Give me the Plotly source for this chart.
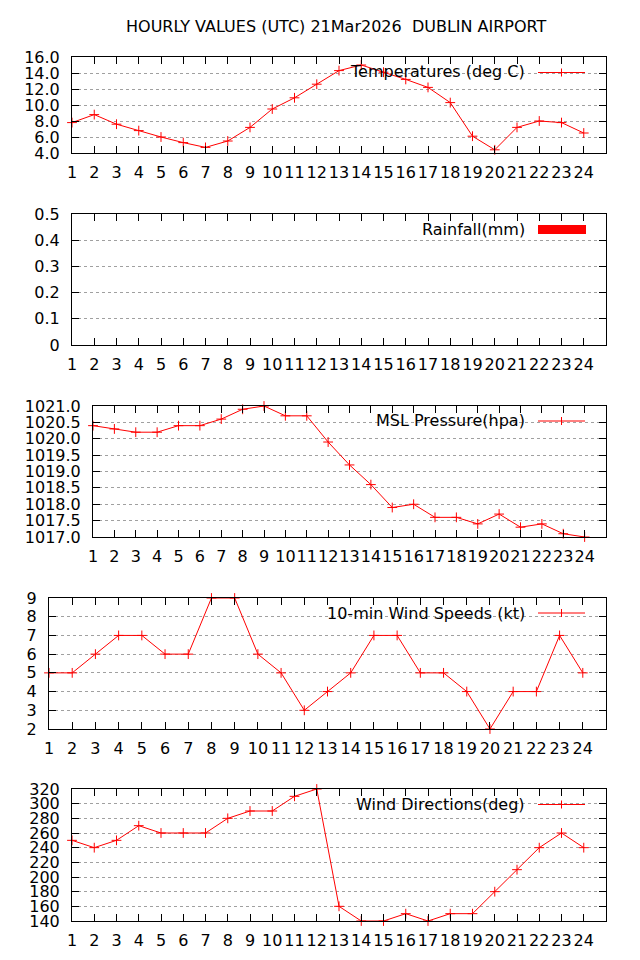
import plotly.graph_objects as go

# ---------------- data ----------------
hours = [1, 2, 3, 4, 5, 6, 7, 8, 9, 10, 11, 12, 13, 14, 15, 16, 17, 18, 19, 20, 21, 22, 23, 24]
hour_labels = [str(h) for h in hours]

title_text = "HOURLY VALUES (UTC) 21Mar2026  DUBLIN AIRPORT"

temperature = [7.8, 8.8, 7.6, 6.8, 6.0, 5.3, 4.7, 5.5, 7.2, 9.5, 10.9, 12.6,
               14.3, 15.0, 14.1, 13.2, 12.2, 10.3, 6.1, 4.4, 7.2, 8.0, 7.8, 6.5]
rainfall = [0.0, 0.0, 0.0, 0.0, 0.0, 0.0, 0.0, 0.0, 0.0, 0.0, 0.0, 0.0,
            0.0, 0.0, 0.0, 0.0, 0.0, 0.0, 0.0, 0.0, 0.0, 0.0, 0.0, 0.0]
pressure = [1020.4, 1020.3, 1020.2, 1020.2, 1020.4, 1020.4, 1020.6, 1020.9, 1021.0, 1020.7, 1020.7, 1019.9,
            1019.2, 1018.6, 1017.9, 1018.0, 1017.6, 1017.6, 1017.4, 1017.7, 1017.3, 1017.4, 1017.1, 1017.0]
wind_speed = [5, 5, 6, 7, 7, 6, 6, 9, 9, 6, 5, 3, 4, 5, 7, 7, 5, 5, 4, 2, 4, 4, 7, 5]
wind_dir = [250, 240, 250, 270, 260, 260, 260, 280, 290, 290, 310, 320,
            160, 140, 140, 150, 140, 150, 150, 180, 210, 240, 260, 240]

temp_ticks = [4, 6, 8, 10, 12, 14, 16]
rain_ticks = [0, 0.1, 0.2, 0.3, 0.4, 0.5]
rain_tick_labels = ["0", "0.1", "0.2", "0.3", "0.4", "0.5"]
pres_ticks = [1017.0, 1017.5, 1018.0, 1018.5, 1019.0, 1019.5, 1020.0, 1020.5, 1021.0]
speed_ticks = [2, 3, 4, 5, 6, 7, 8, 9]
dir_ticks = [140, 160, 180, 200, 220, 240, 260, 280, 300, 320]

titles = ["Temperatures (deg C)", "Rainfall(mm)", "MSL Pressure(hpa)",
          "10-min Wind Speeds (kt)", "Wind Directions(deg)"]

# ---------------- layout geometry (pixels) ----------------
W, H = 640, 960
# (top, bottom, left, right)
boxes = [(57, 153, 72, 606), (214, 345, 72, 606), (406, 537, 93, 606),
         (598, 729, 49, 606), (789, 921, 72, 606)]
key_line_offsets = [0.5, 0.0, 0.0, 0.0, 0.5]

FONT = dict(family="DejaVu Sans", size=16, color="black")
RED = "#ff0000"

fig = go.Figure()

series = [
    (temperature, "line", [4, 16], temp_ticks, [f"{v:.1f}" for v in temp_ticks]),
    (rainfall, "bar", [0, 0.5], rain_ticks, rain_tick_labels),
    (pressure, "line", [1017, 1021], pres_ticks, [f"{v:.1f}" for v in pres_ticks]),
    (wind_speed, "line", [2, 9], speed_ticks, [str(v) for v in speed_ticks]),
    (wind_dir, "line", [140, 320], dir_ticks, [str(v) for v in dir_ticks]),
]

shapes = []
annotations = []

for i, (vals, kind, yr, tv, tt) in enumerate(series):
    n = "" if i == 0 else str(i + 1)
    top, bot, left, right = boxes[i]
    xa = dict(
        domain=[left / W, right / W], range=[1, 25], tickvals=hours, ticktext=hour_labels,
        ticks="inside", ticklen=7, tickcolor="black", tickwidth=1, tickangle=0,
        showline=True, linecolor="black", linewidth=1, mirror="all",
        showgrid=False, zeroline=False, tickfont=FONT, ticklabelstandoff=5,
        anchor="y" + n, fixedrange=True, automargin=False,
    )
    ya = dict(
        domain=[1 - bot / H, 1 - top / H], range=yr, tickvals=tv, ticktext=tt,
        ticks="inside", ticklen=7, tickcolor="black", tickwidth=1,
        showline=True, linecolor="black", linewidth=1, mirror="all",
        showgrid=True, gridcolor="#a0a0a0", griddash="dot", gridwidth=1,
        zeroline=False, tickfont=FONT, ticklabelstandoff=8,
        anchor="x" + n, fixedrange=True, automargin=False,
    )
    fig.layout["xaxis" + n] = xa
    fig.layout["yaxis" + n] = ya

    if kind == "bar":
        fig.add_trace(go.Bar(x=hours, y=vals, xaxis="x" + n, yaxis="y" + n,
                             marker=dict(color=RED, line=dict(width=0)),
                             showlegend=False, name=titles[i]))
    else:
        fig.add_trace(go.Scatter(x=hours, y=vals, xaxis="x" + n, yaxis="y" + n,
                                 mode="lines+markers",
                                 line=dict(color=RED, width=1),
                                 marker=dict(symbol="cross-thin", size=7,
                                             line=dict(color=RED, width=1)),
                                 showlegend=False, name=titles[i], cliponaxis=False))

    # key: white box (above grid, below data), text, sample
    key_y = top + 15
    box_left = 538 - len(titles[i]) * 11.7
    shapes.append(dict(type="rect", xref="paper", yref="paper", layer="between",
                       x0=box_left / W, x1=596 / W, y0=1 - (top + 26) / H, y1=1 - (top + 3) / H,
                       fillcolor="white", line=dict(width=0)))
    annotations.append(dict(text=titles[i], xref="paper", yref="paper",
                            x=527 / W, y=1 - key_y / H, xanchor="right", yanchor="middle",
                            showarrow=False, font=FONT))
    if kind == "bar":
        shapes.append(dict(type="rect", xref="paper", yref="paper", layer="above",
                           x0=538 / W, x1=586 / W, y0=1 - (key_y + 5) / H, y1=1 - (key_y - 4) / H,
                           fillcolor=RED, line=dict(width=0)))
    else:
        ly = key_y + key_line_offsets[i]
        shapes.append(dict(type="line", xref="paper", yref="paper", layer="above",
                           x0=538 / W, x1=585 / W, y0=1 - ly / H, y1=1 - ly / H,
                           line=dict(color=RED, width=1)))
        shapes.append(dict(type="line", xref="paper", yref="paper", layer="above",
                           x0=561.5 / W, x1=561.5 / W, y0=1 - (ly - 4) / H, y1=1 - (ly + 4) / H,
                           line=dict(color=RED, width=1)))

annotations.append(dict(text=title_text, xref="paper", yref="paper",
                        x=336 / W, y=1 - 27 / H, xanchor="center", yanchor="middle",
                        showarrow=False, font=FONT))

fig.update_layout(
    width=W, height=H, autosize=False,
    margin=dict(l=0, r=0, t=0, b=0, autoexpand=False),
    paper_bgcolor="white", plot_bgcolor="white",
    showlegend=False, shapes=shapes, annotations=annotations,
    font=FONT,
)

fig.write_html("out.html", config={"displayModeBar": False},
               post_script="document.body.style.margin='0px';document.body.style.padding='0px';")
